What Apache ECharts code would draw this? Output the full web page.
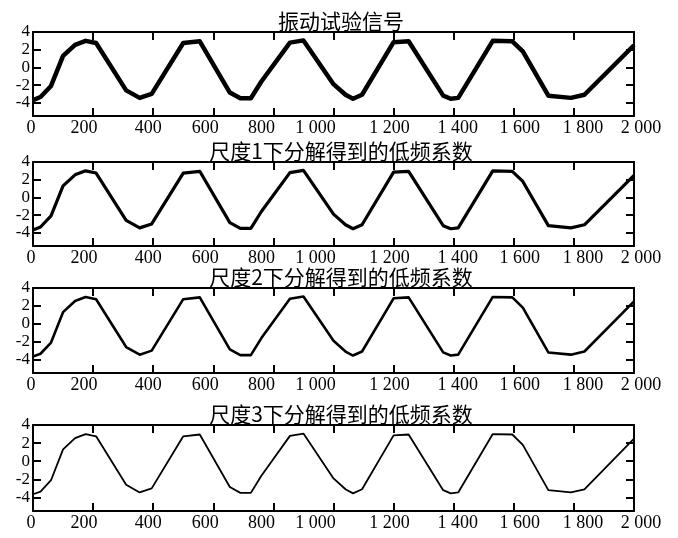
<!DOCTYPE html>
<html>
<head>
<meta charset="utf-8">
<script src="https://cdn.jsdelivr.net/npm/echarts@6/dist/echarts.min.js"></script>
<style>
html,body{margin:0;padding:0;background:#fff;}
#chart{width:678px;height:538px;}
</style>
</head>
<body>
<div id="chart"></div>
<script>
// ---- data ----
const titles = ['振动试验信号', '尺度1下分解得到的低频系数', '尺度2下分解得到的低频系数', '尺度3下分解得到的低频系数'];
const xTicks = [0, 200, 400, 600, 800, 1000, 1200, 1400, 1600, 1800, 2000];
const yTicks = [-4, -2, 0, 2, 4];
const sampleX = [0, 25, 60, 100, 140, 175, 210, 310, 355, 395, 500, 555, 655, 690, 725, 760, 855, 900, 1000, 1040, 1065, 1095, 1200, 1250, 1365, 1390, 1415, 1530, 1595, 1630, 1715, 1790, 1835, 2000];
const signal = [-3.7, -3.35, -2.1, 1.3, 2.55, 3.0, 2.75, -2.6, -3.45, -3.0, 2.75, 2.95, -2.85, -3.5, -3.5, -1.6, 2.8, 3.05, -1.9, -3.1, -3.55, -3.1, 2.85, 2.95, -3.2, -3.55, -3.45, 3.0, 2.95, 1.8, -3.2, -3.45, -3.1, 2.5];
const approx1 = [-3.7, -3.35, -2.1, 1.3, 2.55, 3.0, 2.75, -2.6, -3.45, -3.0, 2.75, 2.95, -2.85, -3.5, -3.5, -1.6, 2.8, 3.05, -1.9, -3.1, -3.55, -3.1, 2.85, 2.95, -3.2, -3.55, -3.45, 3.0, 2.95, 1.8, -3.2, -3.45, -3.1, 2.5];
const approx2 = [-3.65, -3.35, -2.1, 1.3, 2.55, 3.0, 2.75, -2.6, -3.45, -3.0, 2.75, 2.95, -2.85, -3.5, -3.5, -1.6, 2.8, 3.05, -1.9, -3.1, -3.55, -3.1, 2.85, 2.95, -3.2, -3.55, -3.45, 3.0, 2.95, 1.8, -3.2, -3.45, -3.1, 2.5];
const approx3 = [-3.65, -3.35, -2.1, 1.3, 2.55, 3.0, 2.75, -2.6, -3.45, -3.0, 2.75, 2.95, -2.85, -3.5, -3.5, -1.6, 2.8, 3.05, -1.9, -3.1, -3.55, -3.1, 2.85, 2.95, -3.2, -3.55, -3.45, 3.0, 2.95, 1.8, -3.2, -3.45, -3.1, 2.5];
const seriesValues = [signal, approx1, approx2, approx3];

// ---- styling / layout ----
const grids = [
  {top: 32, height: 84},
  {top: 162, height: 84},
  {top: 288, height: 85},
  {top: 425, height: 86}
];
const lineWidths = [4.5, 3.2, 2.6, 1.8];
const labelShift = [-2, -9, -5, -8, -12, -18, -4, 4, 6, 9, 7];
const serif = 'serif';
const cjk = 'Noto Sans CJK SC';
const xLabelSize = 18;
const yLabelSize = 17;

function fmtX(v) {
  if (v >= 1000) {
    const s = String(v);
    return s.slice(0, s.length - 3) + ' ' + s.slice(s.length - 3);
  }
  return String(v);
}
const rich = {};
labelShift.forEach((s, i) => {
  rich['p' + i] = {
    fontFamily: serif, fontSize: xLabelSize, color: '#000', lineHeight: 16,
    padding: s >= 0 ? [0, 0, 0, 2 * s] : [0, -2 * s, 0, 0]
  };
});

const axisLineStyle = {show: true, onZero: false, lineStyle: {color: '#000', width: 2}};
const tickStyle = {show: true, inside: true, length: 8, lineStyle: {color: '#000', width: 2}};

const option = {
  animation: false,
  backgroundColor: '#fff',
  textStyle: {fontFamily: serif},
  title: titles.map((t, i) => ({
    text: t,
    left: 336,
    top: grids[i].top - 26,
    textAlign: 'center',
    textStyle: {fontFamily: cjk, fontSize: 21, fontWeight: 'normal', color: '#000', lineHeight: 20}
  })),
  grid: grids.map(g => ({left: 33, right: 44, top: g.top, height: g.height})),
  xAxis: [],
  yAxis: [],
  series: []
};

grids.forEach((g, i) => {
  option.xAxis.push({
    type: 'value', gridIndex: i, position: 'bottom', min: 0, max: 2000, interval: 200,
    axisLine: axisLineStyle, axisTick: tickStyle, splitLine: {show: false},
    axisLabel: {
      margin: 4, color: '#000', fontFamily: serif, fontSize: xLabelSize, lineHeight: 16,
      showMinLabel: true, showMaxLabel: true,
      formatter: v => {
        const k = xTicks.indexOf(v);
        return '{p' + k + '|' + fmtX(v) + '}';
      },
      rich: rich
    }
  });
  option.xAxis.push({
    type: 'value', gridIndex: i, position: 'top', min: 0, max: 2000, interval: 200,
    axisLine: axisLineStyle, axisTick: tickStyle, splitLine: {show: false},
    axisLabel: {show: false}
  });
  option.yAxis.push({
    type: 'value', gridIndex: i, position: 'left', min: -5.5, max: 4,
    axisLine: axisLineStyle,
    axisTick: Object.assign({}, tickStyle, {customValues: yTicks}),
    splitLine: {show: false},
    axisLabel: {
      customValues: yTicks, margin: 3, color: '#000', fontFamily: serif, fontSize: yLabelSize,
      formatter: v => String(v)
    }
  });
  option.yAxis.push({
    type: 'value', gridIndex: i, position: 'right', min: -5.5, max: 4,
    axisLine: axisLineStyle,
    axisTick: Object.assign({}, tickStyle, {customValues: yTicks}),
    splitLine: {show: false},
    axisLabel: {show: false}
  });
  option.series.push({
    type: 'line',
    xAxisIndex: 2 * i,
    yAxisIndex: 2 * i,
    data: sampleX.map((x, j) => [x, seriesValues[i][j]]),
    showSymbol: false,
    symbol: 'none',
    lineStyle: {color: '#000', width: lineWidths[i], join: 'round'},
    silent: true
  });
});

const chart = echarts.init(document.getElementById('chart'), null, {renderer: 'canvas'});
chart.setOption(option);
</script>
</body>
</html>
